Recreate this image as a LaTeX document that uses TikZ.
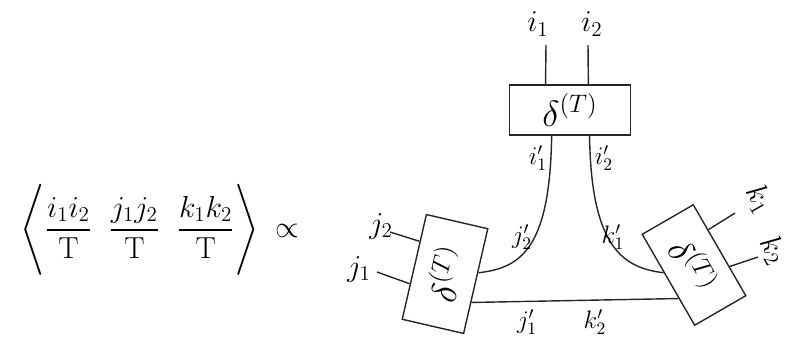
\documentclass[tikz,border=0pt]{standalone}
\usepackage{amsmath,amssymb}
\usepackage{graphicx}
\usetikzlibrary{calc}

\begin{document}
\begin{tikzpicture}[
    x=0.02cm, y=-0.02cm,
    tensor/.style={rectangle, draw=black!85, line width=0.8pt, inner sep=0pt, font=\huge},
    leg_style/.style={draw=black!85, line width=0.8pt},
    idx/.style={inner sep=1pt, font=\LARGE},
    bond/.style={inner sep=1pt, font=\Large}
]
\useasboundingbox (0,0) rectangle (787,339);

% Left-hand side: the correlator
\node (lhs) at (160,230) {\LARGE $\Bigg\langle \dfrac{i_1 i_2}{\mathrm{T}}\;\; \dfrac{j_1 j_2}{\mathrm{T}}\;\; \dfrac{k_1 k_2}{\mathrm{T}} \Bigg\rangle \;\propto$};

% Tensors
\node[tensor, minimum width=2.42cm, minimum height=1cm] (dtop) at (570,110) {$\delta^{(T)}$};
\node[tensor, minimum width=1.26cm, minimum height=2.15cm, rotate=-13] (dleft) at (445,274) {\rotatebox{90}{$\delta^{(T)}$}};
\node[tensor, minimum width=1.18cm, minimum height=2.1cm, rotate=30] (dright) at (694,265) {\rotatebox{-90}{$\delta^{(T)}$}};

% Free ends of the open legs
\coordinate (i1end) at (546,45);
\coordinate (i2end) at (588,45);
\coordinate (j2end) at (390,232);
\coordinate (j1end) at (377,272);
\coordinate (k1end) at (735,213);
\coordinate (k2end) at (758,257);

% Open legs
\draw[leg_style] ($(dtop.north west)!0.30!(dtop.north east)$) -- (i1end);
\draw[leg_style] ($(dtop.north west)!0.65!(dtop.north east)$) -- (i2end);
\draw[leg_style] ($(dleft.north west)!0.26!(dleft.south west)$) -- (j2end);
\draw[leg_style] ($(dleft.north west)!0.66!(dleft.south west)$) -- (j1end);
\draw[leg_style] ($(dright.north east)!0.28!(dright.south east)$) -- (k1end);
\draw[leg_style] ($(dright.north east)!0.68!(dright.south east)$) -- (k2end);

% Contracted bonds
\coordinate (ta) at ($(dtop.south west)!0.35!(dtop.south east)$);
\coordinate (tb) at ($(dtop.south west)!0.66!(dtop.south east)$);
\coordinate (la) at ($(dleft.north east)!0.42!(dleft.south east)$);
\coordinate (lb) at ($(dleft.north east)!0.70!(dleft.south east)$);
\coordinate (ra) at ($(dright.north west)!0.42!(dright.south west)$);
\coordinate (rb) at ($(dright.north west)!0.70!(dright.south west)$);
\draw[leg_style] (ta) .. controls (550,250) and (520,268) .. (la);
\draw[leg_style] (tb) .. controls (591,250) and (625,268) .. (ra);
\draw[leg_style] (lb) -- (rb);

% Index labels
\node[idx] (li1) at (538,24) {$i_1$};
\node[idx] (li2) at (592,24) {$i_2$};
\node[idx] (lj2) at (381,226) {$j_2$};
\node[idx] (lj1) at (359,269) {$j_1$};
\node[idx, rotate=-60] (lk1) at (759,199) {$k_1$};
\node[idx, rotate=-60] (lk2) at (773,250) {$k_2$};
\node[bond] (bi1) at (538,158) {$i_1'$};
\node[bond] (bi2) at (604,158) {$i_2'$};
\node[bond] (bj2) at (522,237) {$j_2'$};
\node[bond] (bk1) at (613,237) {$k_1'$};
\node[bond] (bj1) at (527,322) {$j_1'$};
\node[bond] (bk2) at (595,322) {$k_2'$};

\end{tikzpicture}
\end{document}
